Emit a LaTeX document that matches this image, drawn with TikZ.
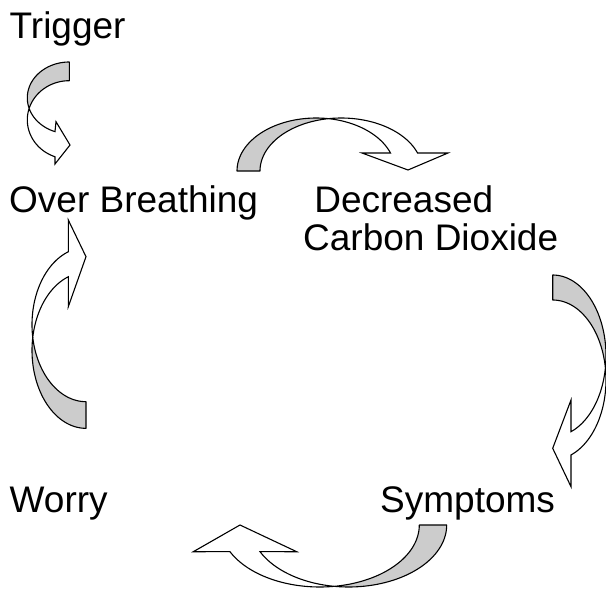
\documentclass[tikz,border=0pt]{standalone}
\usepackage{fontspec}
\setmainfont{Liberation Sans}
\usetikzlibrary{positioning}

\begin{document}
\begin{tikzpicture}[x=1pt, y=-1pt,
  lbl/.style={inner sep=0pt, anchor=base west, align=left,
    font=\fontsize{37}{38}\selectfont},
  back/.style={fill=gray!40, draw=black, line width=1.1pt, line join=round},
  front/.style={fill=white, draw=black, line width=1.1pt, line join=miter},
  every plot/.style={samples=40}]
  \useasboundingbox (0,0) rectangle (606,589);

  % Define nodes
  \node[lbl] (trigger) at (9.5,38) {Trigger};
  \node[lbl] (over) at (9,212) {Over Breathing};
  \node[lbl] (decr) at (303,250) {\hspace*{.3em}Decreased\\Carbon Dioxide};
  \node[lbl] (worry) at (9.5,512) {Worry};
  \node[lbl] (sympt) at (380,512) {Symptoms};

  % Trigger -> Over Breathing
  \path[back] (69.3,62)
    -- plot[domain=-90:-197.04, variable=\t] ({69.3+42*cos(\t)},{97.9+35.9*sin(\t)})
    -- plot[domain=-162.94:-90, variable=\t] ({69.3+42*cos(\t)},{119.9+39.2*sin(\t)}) -- cycle;
  \path[front] plot[domain=-162.94:-250.1, variable=\t] ({69.3+42*cos(\t)},{119.9+39.2*sin(\t)})
    -- (55,164) -- (70,145) -- (56,121.7)
    -- plot[domain=-250.1:-197.04, variable=\t] ({69.3+42*cos(\t)},{97.9+35.9*sin(\t)}) -- cycle;

  % Over Breathing -> Decreased Carbon Dioxide
  \path[back] (237,171)
    -- plot[domain=-180:-80.97, variable=\t] ({316.1+79.1*cos(\t)},{171+53*sin(\t)})
    -- plot[domain=-99:-180, variable=\t] ({341.2+81.2*cos(\t)},{171+53*sin(\t)}) -- cycle;
  \path[front] plot[domain=-99:-19.9, variable=\t] ({341.2+81.2*cos(\t)},{171+53*sin(\t)})
    -- (448,153) -- (408,170) -- (362,153)
    -- plot[domain=-19.9:-80.97, variable=\t] ({316.1+79.1*cos(\t)},{171+53*sin(\t)}) -- cycle;

  % Decreased Carbon Dioxide -> Symptoms
  \path[back] (552.7,275)
    -- plot[domain=-90:8.63, variable=\t] ({552.7+53.3*cos(\t)},{355.8+80.8*sin(\t)})
    -- plot[domain=-8.63:-90, variable=\t] ({552.7+53.3*cos(\t)},{379.9+79.9*sin(\t)}) -- cycle;
  \path[front] plot[domain=-8.63:69.9, variable=\t] ({552.7+53.3*cos(\t)},{379.9+79.9*sin(\t)})
    -- (571,486.7) -- (552.7,448.3) -- (571,400)
    -- plot[domain=69.9:8.63, variable=\t] ({552.7+53.3*cos(\t)},{355.8+80.8*sin(\t)}) -- cycle;

  % Symptoms -> Worry
  \path[back] (446.7,525)
    -- plot[domain=0:98.38, variable=\t] ({348.6+98.1*cos(\t)},{525+62*sin(\t)})
    -- plot[domain=81.62:0, variable=\t] ({319.8+99.5*cos(\t)},{525+62*sin(\t)}) -- cycle;
  \path[front] plot[domain=81.62:154.5, variable=\t] ({319.8+99.5*cos(\t)},{525+62*sin(\t)})
    -- (193.3,551.7) -- (240,525) -- (296.7,551.7)
    -- plot[domain=154.5:98.38, variable=\t] ({348.6+98.1*cos(\t)},{525+62*sin(\t)}) -- cycle;

  % Worry -> Over Breathing
  \path[back] (86,428.3)
    -- plot[domain=90:189.6, variable=\t] ({86+54*cos(\t)},{350.4+77.95*sin(\t)})
    -- plot[domain=170.44:90, variable=\t] ({86+54*cos(\t)},{324.6+77.1*sin(\t)}) -- cycle;
  \path[front] plot[domain=170.44:250.9, variable=\t] ({86+54*cos(\t)},{324.6+77.1*sin(\t)})
    -- (68.3,220) -- (86,256.7) -- (68.3,306.7)
    -- plot[domain=250.9:189.6, variable=\t] ({86+54*cos(\t)},{350.4+77.95*sin(\t)}) -- cycle;
\end{tikzpicture}
\end{document}
